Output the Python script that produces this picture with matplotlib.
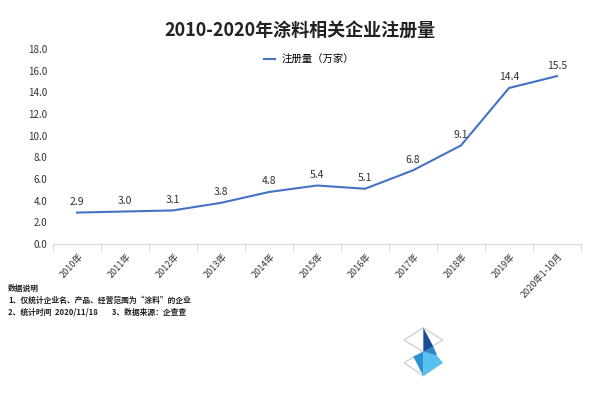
import matplotlib
matplotlib.use("Agg")
import matplotlib.pyplot as plt
from matplotlib.patches import Polygon

plt.rcParams["font.family"] = ["Noto Sans CJK SC", "DejaVu Sans"]

# data
years = ["2010年", "2011年", "2012年", "2013年", "2014年", "2015年",
         "2016年", "2017年", "2018年", "2019年", "2020年1-10月"]
registrations = [2.9, 3.0, 3.1, 3.8, 4.8, 5.4, 5.1, 6.8, 9.1, 14.4, 15.5]
yticks = [0, 2, 4, 6, 8, 10, 12, 14, 16, 18]

title = "2010-2020年涂料相关企业注册量"
series_name = "注册量（万家）"
notes = ["数据说明",
         "1、仅统计企业名、产品、经营范围为“涂料”的企业",
         "2、统计时间  2020/11/18        3、数据来源：企查查"]

W, H = 600, 398
fig = plt.figure(figsize=(W / 100, H / 100), dpi=100)

# axes: left 53px, right 581px, bottom y=244px, top y=49px
ax = fig.add_axes([53 / W, 1 - 244 / H, (581 - 53) / W, (244 - 49) / H])
x = list(range(len(years)))
line, = ax.plot(x, registrations, color="#4472C4", linewidth=1.5, label=series_name)
for xi, v in zip(x, registrations):
    ax.annotate(f"{v:.1f}", (xi, v), xytext=(0, 4), textcoords="offset points",
                ha="center", va="bottom", fontsize=7.5, color="#333333")

ax.set_xlim(-0.5, len(years) - 0.5)
ax.set_ylim(0, 18)
ax.set_yticks(yticks)
ax.set_yticklabels([f"{v:.1f}" for v in yticks], fontsize=7, color="#333333")
ax.tick_params(axis="y", length=0, pad=4)

# category boundaries as tick marks on the baseline
ax.set_xticks([i - 0.5 for i in range(len(years) + 1)])
ax.set_xticklabels([])
ax.tick_params(axis="x", length=4, color="#d9d9d9", width=0.8)
for xi, lab in zip(x, years):
    ax.text(xi + 0.02, -0.7, lab, rotation=48, ha="right", va="top",
            fontsize=6.5, color="#333333", rotation_mode="anchor")

for s in ["top", "right", "left"]:
    ax.spines[s].set_visible(False)
ax.spines["bottom"].set_color("#d9d9d9")

fig.text(300 / W, 1 - 30 / H, title, ha="center", va="center",
         fontsize=13, fontweight="bold", color="#222222")
leg = ax.legend(loc="upper center", bbox_to_anchor=(0.485, 1.02), frameon=False,
                fontsize=7.5, handlelength=1.0, handletextpad=0.6)

for i, t in enumerate(notes):
    fig.text(8 / W, 1 - (288 + 12 * i) / H, t, ha="left", va="center",
             fontsize=5.6, fontweight="bold", color="#222222")

# logo decoration
def pt(px, py):
    return ((380 + px / 3) / W, 1 - (300 + py / 3) / H)

outline = "#c8c8c8"
for pts in [[(72, 120), (130, 83), (188, 120), (130, 155)],
            [(72, 188), (130, 155), (188, 188), (130, 228)]]:
    fig.patches.append(Polygon([pt(*p) for p in pts], closed=True, fill=False,
                               edgecolor=outline, linewidth=0.8,
                               transform=fig.transFigure))
shapes = [([(130, 83), (160, 140), (130, 155)], "#1a4b96"),
          ([(130, 155), (160, 140), (172, 168)], "#2e86c8"),
          ([(130, 155), (172, 168), (188, 188), (130, 228)], "#56c1f0"),
          ([(100, 170), (130, 155), (130, 228)], "#2a8fd4")]
for pts, c in shapes:
    fig.patches.append(Polygon([pt(*p) for p in pts], closed=True, facecolor=c,
                               edgecolor="none", transform=fig.transFigure))

fig.savefig("out.png", dpi=100, facecolor="white")
